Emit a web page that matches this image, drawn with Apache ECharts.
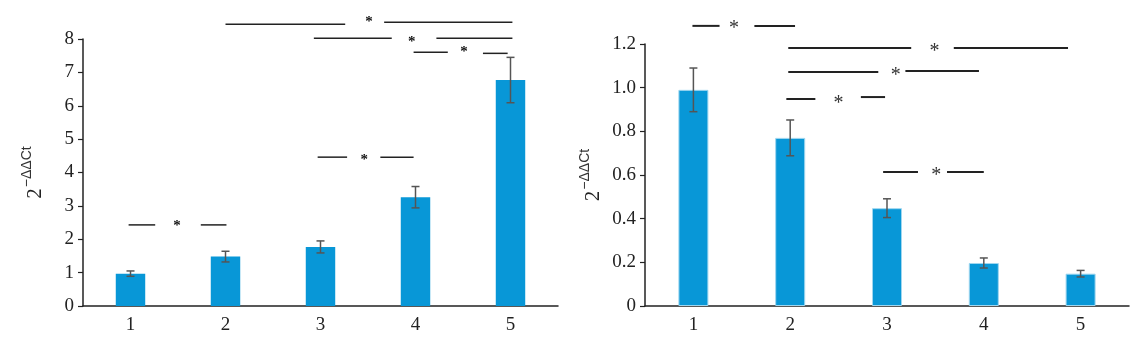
<!DOCTYPE html>
<html>
<head>
<meta charset="utf-8">
<script src="https://cdn.jsdelivr.net/npm/echarts@6/dist/echarts.min.js"></script>
<style>html,body{margin:0;padding:0;background:#fff;}#c{width:1141px;height:350px;}</style>
</head>
<body>
<div id="c"></div>
<script>
// ---- data ----
const categories = ['1', '2', '3', '4', '5'];
const leftValues = [0.97, 1.48, 1.77, 3.26, 6.77];
const leftErrors = [0.08, 0.16, 0.18, 0.32, 0.68];
const rightValues = [0.99, 0.77, 0.448, 0.197, 0.148];
const rightErrors = [0.10, 0.082, 0.043, 0.023, 0.015];
const leftTicks = [0, 1, 2, 3, 4, 5, 6, 7, 8];
const rightTicks = [0, 0.2, 0.4, 0.6, 0.8, 1.0, 1.2];
// significance segments: [xStart, xEnd, y] in (category position, value) units
const leftSegments = [
  [2.0, 3.26, 8.44], [3.67, 5.02, 8.50],
  [2.93, 3.75, 8.02], [4.22, 5.02, 8.02],
  [3.98, 4.34, 7.60], [4.71, 4.97, 7.57],
  [2.97, 3.28, 4.46], [3.63, 3.98, 4.46],
  [0.98, 1.26, 2.43], [1.74, 2.01, 2.43]
];
const leftStars = [[3.51, 8.62], [3.96, 8.02], [4.51, 7.72], [3.46, 4.49], [1.49, 2.51]];
const rightSegments = [
  [0.99, 1.27, 1.283], [1.63, 2.05, 1.283],
  [1.98, 3.25, 1.182], [3.69, 4.87, 1.182],
  [1.98, 2.91, 1.072], [3.19, 3.95, 1.076],
  [1.96, 2.26, 0.948], [2.73, 2.98, 0.957],
  [2.96, 3.32, 0.614], [3.62, 4.00, 0.614]
];
const rightStars = [[1.42, 1.29], [3.49, 1.182], [3.09, 1.072], [2.50, 0.944], [3.51, 0.614]];
const yName = '{b|2}{sup|−ΔΔCt}';

// ---- chart ----
const chart = echarts.init(document.getElementById('c'), null, {renderer: 'canvas'});
const ink = '#222';
const serif = "'Liberation Serif', 'Times New Roman', 'DejaVu Serif', serif";
const sans = "'Liberation Sans', Arial, sans-serif";
const barColor = '#0897d7';

function catAxis(g) {
  return {
    type: 'category', gridIndex: g, data: categories,
    axisLine: {lineStyle: {color: ink, width: 1.5}},
    axisTick: {show: false},
    axisLabel: {fontFamily: serif, fontSize: 19, color: ink, margin: 10}
  };
}
function posAxis(g) {
  return {type: 'value', gridIndex: g, min: 0.5, max: 5.5, show: false};
}
function valAxis(g, ticks, fmt, gap) {
  return {
    type: 'value', gridIndex: g, min: ticks[0], max: ticks[ticks.length - 1],
    interval: ticks[1] - ticks[0],
    name: yName, nameLocation: 'middle', nameGap: gap, nameRotate: 90,
    nameTextStyle: {
      fontFamily: serif, fontSize: 17, color: ink,
      rich: {
        b: {fontFamily: serif, fontSize: 21, color: ink, lineHeight: 24},
        sup: {fontFamily: sans, fontSize: 14, color: '#333', lineHeight: 24, padding: [0, 0, 16, 1]}
      }
    },
    axisLine: {show: true, lineStyle: {color: ink, width: 1.5}},
    axisTick: {show: true, length: 5, lineStyle: {color: ink, width: 1.2}},
    splitLine: {show: false},
    axisLabel: {fontFamily: serif, fontSize: 19, color: ink, margin: 9, formatter: fmt}
  };
}
function errSeries(xi, yi, vals, errs) {
  return {
    type: 'custom', xAxisIndex: xi, yAxisIndex: yi, z: 5,
    data: categories.map((c, i) => [c, vals[i] - errs[i], vals[i] + errs[i]]),
    renderItem: function (params, api) {
      const lo = api.coord([api.value(0), api.value(1)]);
      const hi = api.coord([api.value(0), api.value(2)]);
      const w = 4;
      const st = {stroke: '#555', lineWidth: 1.5};
      return {type: 'group', children: [
        {type: 'line', shape: {x1: hi[0], y1: hi[1], x2: lo[0], y2: lo[1]}, style: st},
        {type: 'line', shape: {x1: hi[0] - w, y1: hi[1], x2: hi[0] + w, y2: hi[1]}, style: st},
        {type: 'line', shape: {x1: lo[0] - w, y1: lo[1], x2: lo[0] + w, y2: lo[1]}, style: st}
      ]};
    }
  };
}
function segSeries(xi, yi, segs, lw) {
  return {
    type: 'custom', xAxisIndex: xi, yAxisIndex: yi, clip: false, z: 6,
    data: segs,
    renderItem: function (params, api) {
      const a = api.coord([api.value(0), api.value(2)]);
      const b = api.coord([api.value(1), api.value(2)]);
      return {type: 'line', shape: {x1: a[0], y1: a[1], x2: b[0], y2: b[1]}, style: {stroke: ink, lineWidth: lw}};
    }
  };
}
function starSeries(xi, yi, stars, size, weight, color, off) {
  return {
    type: 'custom', xAxisIndex: xi, yAxisIndex: yi, clip: false, z: 7,
    data: stars,
    renderItem: function (params, api) {
      const p = api.coord([api.value(0), api.value(1)]);
      return {type: 'text', x: p[0], y: p[1] + size * off,
        style: {text: '*', fontFamily: serif, fontSize: size, fontWeight: weight, fill: color, align: 'center', verticalAlign: 'middle'}};
    }
  };
}

chart.setOption({
  animation: false,
  backgroundColor: '#fff',
  grid: [
    {left: 83, right: 583, top: 39, bottom: 44},
    {left: 645, right: 12, top: 44, bottom: 44}
  ],
  xAxis: [catAxis(0), posAxis(0), catAxis(1), posAxis(1)],
  yAxis: [
    valAxis(0, leftTicks, v => String(v), 36),
    valAxis(1, rightTicks, v => v === 0 ? '0' : v.toFixed(1), 39)
  ],
  series: [
    {type: 'bar', xAxisIndex: 0, yAxisIndex: 0, data: leftValues, barWidth: '31%', itemStyle: {color: barColor}},
    errSeries(0, 0, leftValues, leftErrors),
    segSeries(1, 0, leftSegments, 1.5),
    starSeries(1, 0, leftStars, 15, 'bold', '#111', 0.25),
    {type: 'bar', xAxisIndex: 2, yAxisIndex: 1, data: rightValues, barWidth: '31%', itemStyle: {color: barColor, borderColor: '#9fd6ef', borderWidth: 1}},
    errSeries(2, 1, rightValues, rightErrors),
    segSeries(3, 1, rightSegments, 2),
    starSeries(3, 1, rightStars, 20, 'normal', '#333', 0.2)
  ]
});
</script>
</body>
</html>
